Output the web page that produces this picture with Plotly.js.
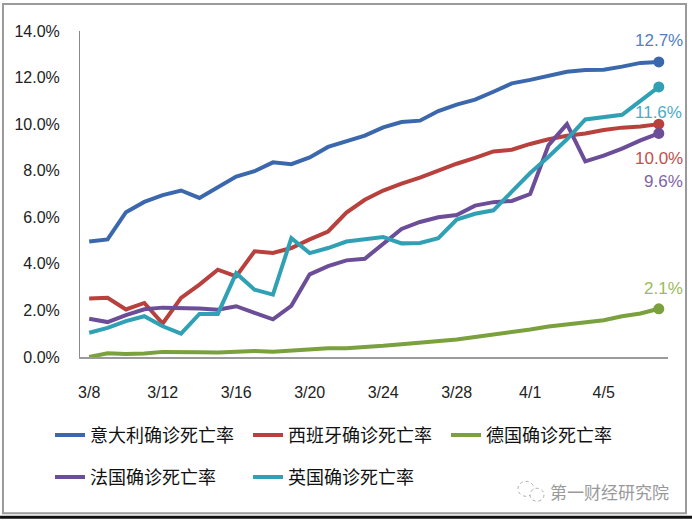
<!DOCTYPE html>
<html>
<head>
<meta charset="utf-8">
<script src="https://cdn.plot.ly/plotly-3.0.1.min.js"></script>
<style>
  html, body { margin: 0; padding: 0; background: #fff; }
  #chart { width: 692px; height: 520px; }
</style>
</head>
<body>
<div id="chart"></div>
<script>
// Daily categories, 3/8 to 4/8
const dates = ['3/8','3/9','3/10','3/11','3/12','3/13','3/14','3/15','3/16','3/17','3/18','3/19',
    '3/20','3/21','3/22','3/23','3/24','3/25','3/26','3/27','3/28','3/29','3/30','3/31',
    '4/1','4/2','4/3','4/4','4/5','4/6','4/7','4/8'];
const tickDates = ['3/8','3/12','3/16','3/20','3/24','3/28','4/1','4/5'];
const yTicks = [0, 2, 4, 6, 8, 10, 12, 14];

// Confirmed-case fatality rate, %
const italy = [4.96, 5.05, 6.22, 6.66, 6.95, 7.15, 6.83, 7.31, 7.75, 7.98, 8.36, 8.28, 8.57, 9.02, 9.26, 9.51,
    9.86, 10.09, 10.15, 10.56, 10.84, 11.05, 11.39, 11.75, 11.90, 12.07, 12.25, 12.33, 12.34, 12.47, 12.63, 12.67];
const spain = [2.51, 2.54, 2.04, 2.32, 1.44, 2.54, 3.11, 3.75, 3.46, 4.54, 4.47, 4.68, 5.05, 5.39, 6.20, 6.75,
    7.15, 7.45, 7.70, 8.00, 8.30, 8.55, 8.83, 8.90, 9.15, 9.35, 9.50, 9.60, 9.75, 9.85, 9.90, 10.00];
const germany = [0.00, 0.16, 0.13, 0.15, 0.22, 0.19, 0.20, 0.19, 0.23, 0.26, 0.23, 0.29, 0.34, 0.38, 0.38, 0.42,
    0.48, 0.55, 0.61, 0.67, 0.75, 0.86, 0.96, 1.08, 1.18, 1.31, 1.40, 1.50, 1.58, 1.75, 1.87, 2.07];
const france = [1.64, 1.50, 1.80, 2.05, 2.12, 2.12, 2.08, 2.03, 2.18, 1.90, 1.62, 2.20, 3.55, 3.90, 4.15, 4.22,
    4.85, 5.50, 5.80, 6.00, 6.10, 6.50, 6.65, 6.70, 7.00, 9.10, 10.00, 8.40, 8.65, 8.95, 9.30, 9.60];
const uk = [1.04, 1.25, 1.54, 1.75, 1.32, 1.00, 1.85, 1.85, 3.60, 2.89, 2.68, 5.10, 4.46, 4.68, 4.96, 5.04,
    5.15, 4.88, 4.90, 5.10, 5.90, 6.15, 6.30, 7.10, 7.90, 8.60, 9.35, 10.20, 10.30, 10.40, 11.00, 11.60];

const names = ['意大利确诊死亡率', '西班牙确诊死亡率', '德国确诊死亡率', '法国确诊死亡率', '英国确诊死亡率'];
const series = [italy, spain, germany, france, uk];

// styling
const lineColors = ['#3b68ad', '#b8403d', '#7ba03e', '#6b4d98', '#30a1b5'];
const labelColors = ['#4f81bd', '#c0504d', '#9bbb59', '#8064a2', '#4bacc6'];
const labelShift = [[0, 21], [0, -34], [5, 20], [5, -48], [0, -26]];

const xIdx = dates.map((_, i) => i);
const last = dates.length - 1;

const traces = series.map((vals, k) => ({
    x: xIdx,
    y: vals,
    type: 'scatter',
    mode: 'lines',
    name: names[k],
    line: {color: lineColors[k], width: 4},
    legend: k < 3 ? 'legend' : 'legend2',
    hoverinfo: 'skip'
}));

// end-point dots
series.forEach((vals, k) => {
    traces.push({
        x: [last],
        y: [vals[last]],
        type: 'scatter',
        mode: 'markers',
        marker: {color: lineColors[k], size: 11},
        showlegend: false,
        hoverinfo: 'skip'
    });
});

const annotations = series.map((vals, k) => ({
    x: last,
    y: vals[last],
    text: vals[last].toFixed(1) + '%',
    showarrow: false,
    xshift: labelShift[k][0],
    yshift: labelShift[k][1],
    font: {family: 'Liberation Sans', size: 17, color: labelColors[k]}
}));

// watermark
annotations.push({
    xref: 'paper', yref: 'paper',
    x: 0.8997, y: -0.4119,
    xanchor: 'center', yanchor: 'middle',
    text: '第一财经研究院',
    showarrow: false,
    font: {family: 'Noto Sans CJK SC', size: 17, color: '#9a9a9a'}
});

const legendBase = {
    orientation: 'h',
    x: -0.051,
    xanchor: 'left',
    yanchor: 'middle',
    entrywidth: 153,
    itemwidth: 30,
    bgcolor: 'rgba(0,0,0,0)',
    font: {family: 'Noto Sans CJK SC', size: 18, color: '#111'}
};

const layout = {
    width: 692,
    height: 520,
    margin: {l: 80, r: 24, t: 31, b: 162.5},
    paper_bgcolor: '#fff',
    plot_bgcolor: '#fff',
    font: {family: 'Liberation Sans', color: '#222'},
    showlegend: true,
    legend: Object.assign({}, legendBase, {y: -0.240}),
    legend2: Object.assign({}, legendBase, {y: -0.369}),
    xaxis: {
        range: [-0.5, 31.5],
        tickmode: 'array',
        tickvals: tickDates.map(d => dates.indexOf(d)),
        ticktext: tickDates,
        showgrid: false,
        zeroline: false,
        showline: true,
        linecolor: '#9a9a9a',
        linewidth: 2,
        ticks: '',
        ticklabelstandoff: 20,
        tickfont: {size: 16, color: '#222'}
    },
    yaxis: {
        range: [0, 14],
        tickmode: 'array',
        tickvals: yTicks,
        ticktext: yTicks.map(v => v.toFixed(1) + '%'),
        showgrid: false,
        zeroline: false,
        showline: true,
        linecolor: '#8a8a8a',
        linewidth: 1,
        ticks: '',
        ticklabelstandoff: 16,
        tickfont: {size: 16, color: '#222'}
    },
    shapes: [
        // outer frame
        {type: 'rect', xref: 'paper', yref: 'paper', x0: -0.131, x1: 1.0306, y0: -0.4793, y1: 1.0827,
            line: {color: '#9a9a9a', width: 2}},
        {type: 'line', xref: 'paper', yref: 'paper', x0: -0.136, x1: 1.041, y0: -0.4915, y1: -0.4915,
            line: {color: '#111', width: 3}},
        // chat-bubble icon next to the watermark
        {type: 'circle', xref: 'paper', yref: 'paper', x0: 0.7449, x1: 0.7721, y0: -0.4273, y1: -0.3813,
            line: {color: '#aaaaaa', width: 1, dash: 'dot'}},
        {type: 'circle', xref: 'paper', yref: 'paper', x0: 0.7653, x1: 0.7891, y0: -0.4426, y1: -0.4028,
            fillcolor: '#fff', line: {color: '#aaaaaa', width: 1, dash: 'dot'}}
    ],
    annotations: annotations
};

Plotly.newPlot('chart', traces, layout, {displayModeBar: false, staticPlot: true});
</script>
</body>
</html>
